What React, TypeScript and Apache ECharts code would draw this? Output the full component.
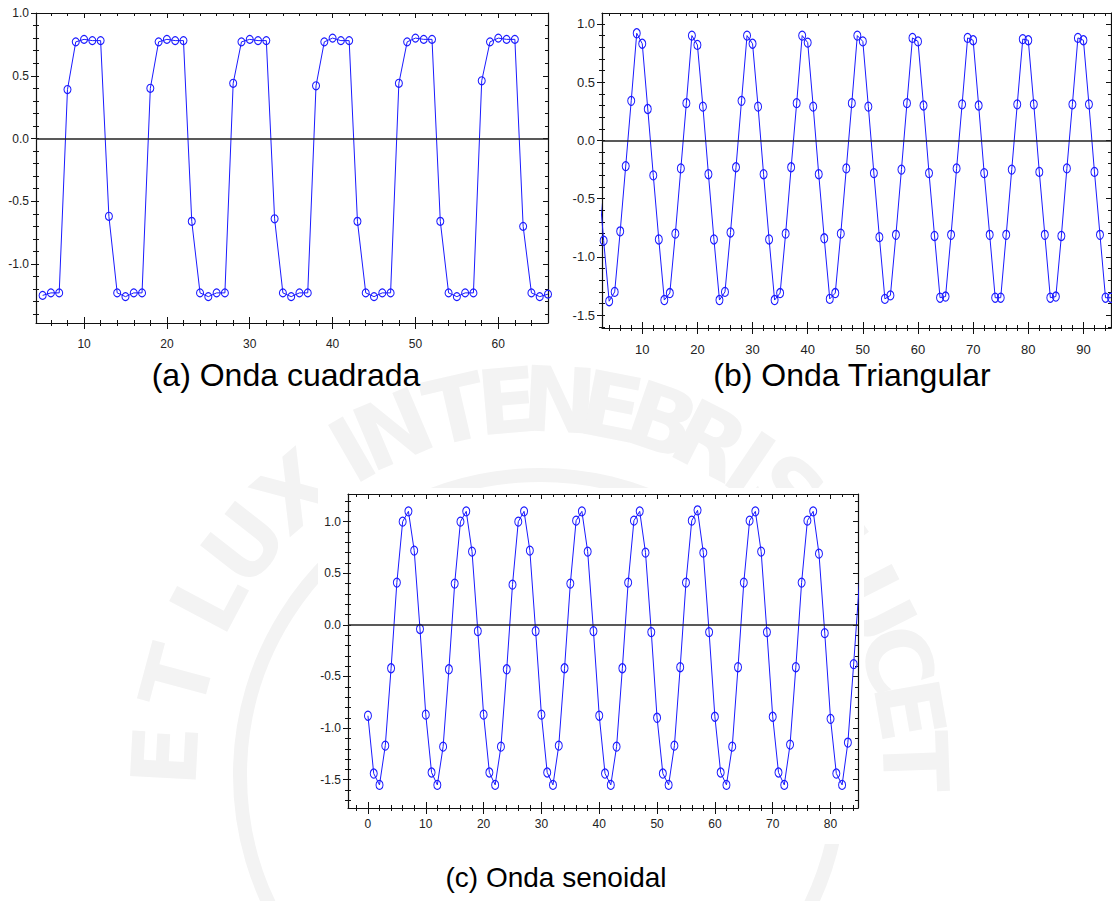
import React, { useEffect, useRef } from "react";
import * as echarts from "echarts";

// ---------- data ----------
// (a) Onda cuadrada: x starts at 5, step 1
const squareStart = 5;
const squareValues = [
  -1.25, -1.23, -1.23, 0.39, 0.77, 0.79, 0.78, 0.78, -0.62, -1.23,
  -1.26, -1.23, -1.23, 0.4, 0.77, 0.79, 0.78, 0.78, -0.66, -1.23,
  -1.26, -1.23, -1.23, 0.44, 0.77, 0.79, 0.78, 0.78, -0.64, -1.23,
  -1.26, -1.23, -1.23, 0.42, 0.77, 0.8, 0.78, 0.78, -0.66, -1.23,
  -1.26, -1.23, -1.23, 0.44, 0.77, 0.8, 0.79, 0.79, -0.66, -1.23,
  -1.26, -1.23, -1.23, 0.46, 0.77, 0.8, 0.79, 0.79, -0.7, -1.23,
  -1.26, -1.24,
];

// (b) Onda Triangular: x starts at 2
const triStart = 2;
const triValues = [
  -0.29,
  -0.86, -1.38, -1.3, -0.78, -0.22, 0.34, 0.92, 0.83, 0.27, -0.3,
  -0.85, -1.37, -1.31, -0.8, -0.24, 0.32, 0.9, 0.82, 0.29, -0.29,
  -0.85, -1.37, -1.3, -0.79, -0.23, 0.34, 0.9, 0.83, 0.29, -0.29,
  -0.85, -1.37, -1.31, -0.8, -0.23, 0.32, 0.9, 0.84, 0.29, -0.29,
  -0.84, -1.36, -1.31, -0.8, -0.24, 0.32, 0.9, 0.85, 0.29, -0.28,
  -0.83, -1.36, -1.33, -0.81, -0.25, 0.32, 0.88, 0.85, 0.3, -0.28,
  -0.82, -1.35, -1.34, -0.81, -0.24, 0.31, 0.88, 0.86, 0.3, -0.28,
  -0.81, -1.35, -1.35, -0.81, -0.25, 0.31, 0.87, 0.86, 0.31, -0.27,
  -0.81, -1.35, -1.34, -0.82, -0.24, 0.31, 0.88, 0.86, 0.31, -0.27,
  -0.81, -1.35, -1.35,
];

// (c) Onda senoidal: x starts at 0
const sineStart = 0;
const sineValues = [
  -0.88, -1.44, -1.55, -1.17, -0.42, 0.41, 1.0, 1.1, 0.72, -0.04,
  -0.87, -1.43, -1.55, -1.18, -0.43, 0.4, 1.0, 1.1, 0.71, -0.06,
  -0.87, -1.43, -1.55, -1.18, -0.43, 0.39, 1.0, 1.1, 0.72, -0.06,
  -0.87, -1.43, -1.55, -1.17, -0.42, 0.4, 1.01, 1.1, 0.71, -0.06,
  -0.88, -1.44, -1.55, -1.18, -0.42, 0.41, 1.01, 1.1, 0.7, -0.07,
  -0.9, -1.44, -1.55, -1.17, -0.41, 0.41, 1.01, 1.11, 0.7, -0.07,
  -0.89, -1.43, -1.55, -1.18, -0.41, 0.41, 1.01, 1.1, 0.71, -0.07,
  -0.89, -1.43, -1.55, -1.16, -0.41, 0.41, 1.01, 1.1, 0.69, -0.08,
  -0.91, -1.44, -1.55, -1.14, -0.38, 0.42,
];

// tick labels
const squareXTicks = [10, 20, 30, 40, 50, 60];
const triXTicks = [10, 20, 30, 40, 50, 60, 70, 80, 90];
const sineXTicks = [0, 10, 20, 30, 40, 50, 60, 70, 80];
const squareYTicks = [-1.0, -0.5, 0.0, 0.5, 1.0];
const triYTicks = [-1.5, -1.0, -0.5, 0.0, 0.5, 1.0];
const sineYTicks = [-1.5, -1.0, -0.5, 0.0, 0.5, 1.0];
const squareXMinor = [6, 8, 12, 14, 16, 18, 22, 24, 26, 28, 32, 34, 36, 38, 42, 44, 46, 48, 52, 54, 56, 58, 62, 64];
const triXMinor = [4, 6, 8, 12, 14, 16, 18, 22, 24, 26, 28, 32, 34, 36, 38, 42, 44, 46, 48, 52, 54, 56, 58, 62, 64, 66, 68, 72, 74, 76, 78, 82, 84, 86, 88, 92, 94];
const sineXMinor = [-2, 2, 4, 6, 8, 12, 14, 16, 18, 22, 24, 26, 28, 32, 34, 36, 38, 42, 44, 46, 48, 52, 54, 56, 58, 62, 64, 66, 68, 72, 74, 76, 78, 82, 84];
const squareYMinor = [-1.4, -1.3, -1.2, -1.1, -0.9, -0.8, -0.7, -0.6, -0.4, -0.3, -0.2, -0.1, 0.1, 0.2, 0.3, 0.4, 0.6, 0.7, 0.8, 0.9];
const triYMinor = [-1.6, -1.4, -1.3, -1.2, -1.1, -0.9, -0.8, -0.7, -0.6, -0.4, -0.3, -0.2, -0.1, 0.1, 0.2, 0.3, 0.4, 0.6, 0.7, 0.8, 0.9];
const sineYMinor = [-1.7, -1.6, -1.4, -1.3, -1.2, -1.1, -0.9, -0.8, -0.7, -0.6, -0.4, -0.3, -0.2, -0.1, 0.1, 0.2, 0.3, 0.4, 0.6, 0.7, 0.8, 0.9, 1.1, 1.2];

const captions = ["(a) Onda cuadrada", "(b) Onda Triangular", "(c) Onda senoidal"];

// faint watermark motto (letters placed along an arc)
const mottoLetters = ["E", "T", "L", "U", "X", "I", "N", "T", "E", "N", "E", "B", "R", "I", "S", "L", "U", "C", "E", "T"];
const mottoAngles = [183, 195, 208, 218, 229, 240, 247, 257, 265, 273, 281, 289, 297, 304, 311, 324, 333, 342, 350, 358];

const LABEL_FONT = "'Liberation Sans', Arial, sans-serif";
const AXIS_COLOR = "#111";
const LINE_COLOR = "#1a1aff";
const WATERMARK = "#f3f3f3";

type Panel = {
  grid: { left: number; top: number; width: number; height: number };
  xRange: [number, number];
  yRange: [number, number];
  xTicks: number[];
  xMinor: number[];
  yTicks: number[];
  yMinor: number[];
  xMargin: number;
  yMargin: number;
  fontSize: number;
  start: number;
  values: number[];
  symbolSize: number[];
};

const panels: Panel[] = [
  {
    grid: { left: 36, top: 13, width: 512, height: 310 },
    xRange: [4.2, 66.0],
    yRange: [-1.47, 1.0],
    xTicks: squareXTicks,
    xMinor: squareXMinor,
    yTicks: squareYTicks,
    yMinor: squareYMinor,
    xMargin: 15,
    yMargin: 7,
    fontSize: 12,
    start: squareStart,
    values: squareValues,
    symbolSize: [7, 8],
  },
  {
    grid: { left: 602, top: 13, width: 509, height: 315 },
    xRange: [2.7, 95],
    yRange: [-1.61, 1.094],
    xTicks: triXTicks,
    xMinor: triXMinor,
    yTicks: triYTicks,
    yMinor: triYMinor,
    xMargin: 15,
    yMargin: 7,
    fontSize: 13,
    start: triStart,
    values: triValues,
    symbolSize: [7, 9],
  },
  {
    grid: { left: 348, top: 494, width: 510, height: 314 },
    xRange: [-3.45, 84.75],
    yRange: [-1.774, 1.268],
    xTicks: sineXTicks,
    xMinor: sineXMinor,
    yTicks: sineYTicks,
    yMinor: sineYMinor,
    xMargin: 10,
    yMargin: 7,
    fontSize: 12,
    start: sineStart,
    values: sineValues,
    symbolSize: [7, 9],
  },
];

function baseAxis(gridIndex: number, range: [number, number], position: string) {
  return {
    type: "value",
    gridIndex,
    position,
    min: range[0],
    max: range[1],
    splitLine: { show: false },
    axisLine: { show: false, onZero: false },
    axisTick: { show: false },
    axisLabel: { show: false },
  };
}

function tickAxis(gridIndex: number, range: [number, number], position: string, values: number[], inside: boolean, length: number, showLine: boolean) {
  const a: any = baseAxis(gridIndex, range, position);
  a.axisTick = { show: true, customValues: values, inside, length, lineStyle: { color: AXIS_COLOR, width: 1 } };
  if (showLine) a.axisLine = { show: true, onZero: false, lineStyle: { color: AXIS_COLOR, width: 1.2 } };
  return a;
}

export default function App() {
  const ref = useRef<HTMLDivElement>(null);
  useEffect(() => {
    if (!ref.current) return;
    const chart = echarts.init(ref.current, null, { renderer: "svg" });
    const grids: any[] = [];
    const xAxes: any[] = [];
    const yAxes: any[] = [];
    const series: any[] = [];

    panels.forEach((p, g) => {
      grids.push({ ...p.grid, containLabel: false });
      const xBase = xAxes.length;
      const yBase = yAxes.length;
      const xMain: any = tickAxis(g, p.xRange, "bottom", p.xTicks, false, 6, true);
      xMain.axisLabel = {
        show: true,
        customValues: p.xTicks,
        formatter: (v: number) => String(Math.round(v)),
        margin: p.xMargin,
        fontSize: p.fontSize,
        color: "#222",
        fontFamily: LABEL_FONT,
      };
      xAxes.push(xMain);
      xAxes.push(tickAxis(g, p.xRange, "bottom", p.xTicks, true, 6, false));
      xAxes.push(tickAxis(g, p.xRange, "bottom", p.xMinor, false, 3, false));
      xAxes.push(tickAxis(g, p.xRange, "bottom", p.xMinor, true, 3, false));
      xAxes.push(tickAxis(g, p.xRange, "top", p.xTicks, true, 5, true));
      xAxes.push(tickAxis(g, p.xRange, "top", p.xMinor, true, 3, false));
      const yMain: any = tickAxis(g, p.yRange, "left", p.yTicks, false, 5, true);
      yMain.axisLabel = {
        show: true,
        customValues: p.yTicks,
        formatter: (v: number) => v.toFixed(1),
        margin: p.yMargin,
        fontSize: p.fontSize,
        color: "#222",
        fontFamily: LABEL_FONT,
      };
      yAxes.push(yMain);
      yAxes.push(tickAxis(g, p.yRange, "left", p.yTicks, true, 3, false));
      yAxes.push(tickAxis(g, p.yRange, "left", p.yMinor, false, 3, false));
      yAxes.push(tickAxis(g, p.yRange, "left", p.yMinor, true, 3, false));
      yAxes.push(tickAxis(g, p.yRange, "right", p.yTicks, true, 5, true));
      yAxes.push(tickAxis(g, p.yRange, "right", p.yMinor, true, 3, false));

      series.push({
        type: "line",
        xAxisIndex: xBase,
        yAxisIndex: yBase,
        data: p.values.map((v, i) => [p.start + i, v]),
        symbol: "circle",
        symbolSize: p.symbolSize,
        showAllSymbol: true,
        clip: true,
        lineStyle: { color: LINE_COLOR, width: 1 },
        itemStyle: { color: "rgba(0,0,0,0)", borderColor: LINE_COLOR, borderWidth: 1.1 },
        emphasis: { disabled: true },
        silent: true,
        markLine: {
          silent: true,
          symbol: "none",
          label: { show: false },
          lineStyle: { color: "#222", width: 1.5, type: "solid" },
          data: [{ yAxis: 0 }],
        },
      });
    });

    const captionStyle = {
      fill: "#000",
      fontFamily: "'Liberation Sans', Arial, sans-serif",
      align: "center",
      verticalAlign: "middle",
    };

    // watermark seal: letters along an arc, a ring, then white chart backgrounds on top
    const cx = 540;
    const cy = 775;
    const r = 375;
    const watermark: any[] = mottoLetters.map((ch, i) => {
      const a = (mottoAngles[i] * Math.PI) / 180;
      return {
        type: "text",
        silent: true,
        z: -20,
        x: cx + r * Math.cos(a),
        y: cy + r * Math.sin(a),
        rotation: ((270 - mottoAngles[i]) * Math.PI) / 180,
        style: {
          text: ch,
          fill: WATERMARK,
          fontSize: 90,
          fontWeight: "bold",
          fontFamily: "'DejaVu Sans', sans-serif",
          align: "center",
          verticalAlign: "middle",
        },
      };
    });
    watermark.push({
      type: "circle",
      silent: true,
      z: -20,
      shape: { cx, cy, r: 300 },
      style: { fill: "none", stroke: WATERMARK, lineWidth: 14 },
    });
    const whiteBoxes = [
      [0, 0, 558, 356],
      [562, 0, 550, 356],
      [318, 488, 546, 356],
    ].map(([x, y, w, h]) => ({
      type: "rect",
      silent: true,
      z: -10,
      shape: { x, y, width: w, height: h },
      style: { fill: "#fff" },
    }));

    chart.setOption({
      animation: false,
      backgroundColor: "#fff",
      grid: grids,
      xAxis: xAxes,
      yAxis: yAxes,
      series,
      graphic: [
        ...watermark,
        ...whiteBoxes,
        { type: "text", x: 286, y: 375, style: { ...captionStyle, fontSize: 32, text: captions[0] } },
        { type: "text", x: 852, y: 375, style: { ...captionStyle, fontSize: 32, text: captions[1] } },
        { type: "text", x: 556, y: 877, style: { ...captionStyle, fontSize: 28, text: captions[2] } },
      ],
    });
    return () => chart.dispose();
  }, []);
  return <div ref={ref} style={{ position: "fixed", left: 0, top: 0, width: 1112, height: 901 }} />;
}
